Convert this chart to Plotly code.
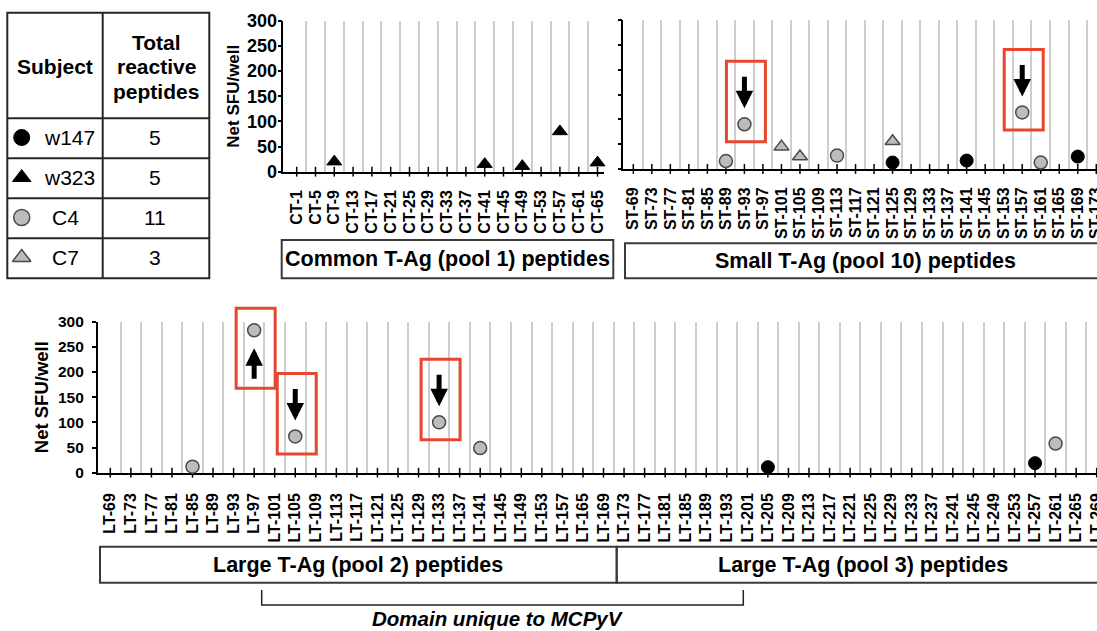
import plotly.graph_objects as go

W, H = 1097, 631

# ---------------- peptide categories ----------------
ct_peptides = ["CT-1", "CT-5", "CT-9", "CT-13", "CT-17", "CT-21", "CT-25", "CT-29", "CT-33",
               "CT-37", "CT-41", "CT-45", "CT-49", "CT-53", "CT-57", "CT-61", "CT-65"]
st_peptides = ["ST-69", "ST-73", "ST-77", "ST-81", "ST-85", "ST-89", "ST-93", "ST-97", "ST-101",
               "ST-105", "ST-109", "ST-113", "ST-117", "ST-121", "ST-125", "ST-129", "ST-133",
               "ST-137", "ST-141", "ST-145", "ST-153", "ST-157", "ST-161", "ST-165", "ST-169", "ST-173"]
lt_peptides = ["LT-69", "LT-73", "LT-77", "LT-81", "LT-85", "LT-89", "LT-93", "LT-97", "LT-101",
               "LT-105", "LT-109", "LT-113", "LT-117", "LT-121", "LT-125", "LT-129", "LT-133",
               "LT-137", "LT-141", "LT-145", "LT-149", "LT-153", "LT-157", "LT-165", "LT-169",
               "LT-173", "LT-177", "LT-181", "LT-185", "LT-189", "LT-193", "LT-201", "LT-205",
               "LT-209", "LT-213", "LT-217", "LT-221", "LT-225", "LT-229", "LT-233", "LT-237",
               "LT-241", "LT-245", "LT-249", "LT-253", "LT-257", "LT-261", "LT-265", "LT-269"]

# ---------------- responses (net SFU/well) ----------------
subjects = ["w147", "w323", "C4", "C7"]
w147_peptides = ["ST-125", "ST-141", "ST-169", "LT-205", "LT-257"]
w147_sfu = [13, 17, 25, 11, 19]
w323_peptides = ["CT-9", "CT-41", "CT-49", "CT-57", "CT-65"]
w323_sfu = [20, 15, 11, 80, 18]
c4_peptides = ["ST-89", "ST-93", "ST-113", "ST-157", "ST-161",
               "LT-85", "LT-97", "LT-105", "LT-133", "LT-141", "LT-261"]
c4_sfu = [16, 90, 27, 114, 13, 12, 283, 72, 100, 49, 58]
c7_peptides = ["ST-101", "ST-105", "ST-125"]
c7_sfu = [45, 25, 56]

# responses flagged with a red frame and an arrow
highlight_peptides = ["ST-93", "ST-157", "LT-97", "LT-105", "LT-133"]
highlight_dirs = ["down", "down", "up", "down", "down"]

# pool boxes under the axes
pool_labels = ["Common T-Ag (pool 1) peptides", "Small T-Ag (pool 10) peptides",
               "Large T-Ag (pool 2) peptides", "Large T-Ag (pool 3) peptides"]
domain_label = "Domain unique to MCPyV"

# ---------------- styling ----------------
FONT = "Liberation Sans, Arial, Helvetica, sans-serif"
GREY_FILL = "#bcbcbc"
GREY_EDGE = "#4a4a4a"
RED = "#e8472f"
styles = {
    "w147": dict(symbol="circle", color="black", line=dict(color="black", width=1)),
    "w323": dict(symbol="triangle-up", color="black", line=dict(color="black", width=1)),
    "C4": dict(symbol="circle", color=GREY_FILL, line=dict(color=GREY_EDGE, width=1.5)),
    "C7": dict(symbol="triangle-up", color=GREY_FILL, line=dict(color=GREY_EDGE, width=1.5)),
}
series = {
    "w147": (w147_peptides, w147_sfu),
    "w323": (w323_peptides, w323_sfu),
    "C4": (c4_peptides, c4_sfu),
    "C7": (c7_peptides, c7_sfu),
}

# panel geometry in pixels: axis box and centre of first category / category step
panels = {
    "CT": dict(cats=ct_peptides, ax="", x0=283.3, x1=604.0, ybot=171.7, ytop=20.7, first=296.7, step=18.8,
               labels=True, tick_size=16, ytick_size=18, standoff=10, ystandoff=-3,
               title_x=233.5, title_size=17),
    "ST": dict(cats=st_peptides, ax="2", x0=623.3, x1=1097.0, ybot=169.0, ytop=20.0, first=633.3, step=18.52,
               labels=False, tick_size=16, ytick_size=18, standoff=10, ystandoff=0,
               title_x=None, title_size=17),
    "LT": dict(cats=lt_peptides, ax="3", x0=97.7, x1=1097.0, ybot=472.7, ytop=321.7, first=110.3, step=20.55,
               labels=True, tick_size=16, ytick_size=15.5, standoff=12, ystandoff=5,
               title_x=41.0, title_size=18.5),
}
YMAX = 300


def px(x):
    return x / W


def py(y):
    return 1 - y / H


def panel_of(pep):
    return pep.split("-")[0]


def to_pixel(pep, val):
    p = panels[panel_of(pep)]
    i = p["cats"].index(pep)
    return p["first"] + i * p["step"], p["ybot"] - val / YMAX * (p["ybot"] - p["ytop"])


fig = go.Figure()
layout = dict(
    width=W, height=H, autosize=False,
    margin=dict(l=0, r=0, t=0, b=0, pad=0, autoexpand=False),
    paper_bgcolor="white", plot_bgcolor="rgba(0,0,0,0)",
    showlegend=False, font=dict(family=FONT, color="black"),
)

annotations = []
shapes = []

# ---------------- axes, gridlines, cross ticks ----------------
for key, p in panels.items():
    n = len(p["cats"])
    xa, ya = "xaxis" + p["ax"], "yaxis" + p["ax"]
    xr, yr = "x" + p["ax"], "y" + p["ax"]
    layout[xa] = dict(
        domain=[px(p["x0"]), px(p["x1"])], anchor=yr,
        range=[(p["x0"] - p["first"]) / p["step"], (p["x1"] - p["first"]) / p["step"]],
        tickmode="array", tickvals=list(range(n)), ticktext=p["cats"], tickangle=-90,
        tickfont=dict(family=FONT, size=p["tick_size"], color="black", weight="bold"),
        ticks="", ticklabelstandoff=p["standoff"], ticklabeloverflow="allow",
        showline=True, linecolor="black", linewidth=2, showgrid=False, zeroline=False,
        minor=dict(tickmode="array", tickvals=[i + 0.5 for i in range(n - 1)], showgrid=True,
                   gridcolor="#cdcdcd", gridwidth=1.5, ticks=""),
        layer="below traces", fixedrange=True,
    )
    layout[ya] = dict(
        domain=[py(p["ybot"]), py(p["ytop"])], anchor=xr,
        range=[0, YMAX], tickmode="array", tickvals=list(range(0, YMAX + 1, 50)),
        showticklabels=p["labels"], ticklabelstandoff=p["ystandoff"],
        tickfont=dict(family=FONT, size=p["ytick_size"], color="black", weight="bold"),
        ticks="outside", ticklen=4, tickwidth=1.5, tickcolor="black",
        showline=True, linecolor="black", linewidth=1.5, showgrid=False, zeroline=False,
        fixedrange=True,
    )
    # cross-style tick marks on the category axis
    fig.add_trace(go.Scatter(
        x=list(range(n)), y=[0] * n, xaxis=xr, yaxis=yr, mode="markers",
        marker=dict(symbol="line-ns", size=7, line=dict(color="black", width=1.5)),
        cliponaxis=False, hoverinfo="skip",
    ))
    if p["title_x"] is not None:
        annotations.append(dict(
            x=px(p["title_x"]), y=py((p["ybot"] + p["ytop"]) / 2), xref="paper", yref="paper",
            text="Net SFU/well", textangle=-90, showarrow=False,
            font=dict(family=FONT, size=p["title_size"], color="black", weight="bold"),
            xanchor="center", yanchor="middle",
        ))

# ---------------- response markers ----------------
for s in subjects:
    peps, vals = series[s]
    for key, p in panels.items():
        xs = [p["cats"].index(pep) for pep in peps if panel_of(pep) == key]
        ys = [v for pep, v in zip(peps, vals) if panel_of(pep) == key]
        if not xs:
            continue
        st = styles[s]
        fig.add_trace(go.Scatter(
            x=xs, y=ys, xaxis="x" + p["ax"], yaxis="y" + p["ax"], mode="markers", name=s,
            marker=dict(symbol=st["symbol"], size=13, color=st["color"], line=st["line"]),
            cliponaxis=False,
        ))

# ---------------- highlight frames and arrows ----------------
all_vals = {}
for s in subjects:
    for pep, v in zip(*series[s]):
        all_vals[pep] = v
for pep, d in zip(highlight_peptides, highlight_dirs):
    v = all_vals[pep]
    p = panels[panel_of(pep)]
    cx, cy = to_pixel(pep, v)
    if d == "down":
        top, bot = cy - 63, cy + 17.5
        ay, standoff = -49, 16
    else:
        top, bot = cy - 22, cy + 58
        ay, standoff = 50, 18
    shapes.append(dict(type="rect", xref="paper", yref="paper",
                       x0=px(cx - 18), x1=px(cx + 21), y0=py(bot), y1=py(top),
                       line=dict(color=RED, width=3), fillcolor="rgba(0,0,0,0)"))
    annotations.append(dict(
        x=p["cats"].index(pep), y=v, xref="x" + p["ax"], yref="y" + p["ax"],
        ax=0, ay=ay, text="", showarrow=True, arrowhead=2, arrowsize=0.7,
        arrowwidth=5, arrowcolor="black", standoff=standoff,
    ))

# ---------------- pool boxes ----------------
BOX_LINE = dict(color="#3a3a3a", width=2)
box_font = dict(family=FONT, size=21.5, color="black", weight="bold")
pool_boxes = [  # x0, x1, y_top, y_bottom, text centre x
    (281.7, 613.3, 240.0, 278.3, 447.5),
    (625.0, 1105.0, 243.3, 278.3, 865.0),
    (100.0, 616.7, 546.7, 582.7, 358.0),
    (616.7, 1105.0, 546.7, 582.7, 862.5),
]
for label, (x0, x1, yt, yb, tx) in zip(pool_labels, pool_boxes):
    shapes.append(dict(type="rect", xref="paper", yref="paper",
                       x0=px(x0), x1=px(x1), y0=py(yb), y1=py(yt), line=BOX_LINE))
    annotations.append(dict(x=px(tx), y=py((yt + yb) / 2), xref="paper", yref="paper",
                            text=label, showarrow=False, font=box_font,
                            xanchor="center", yanchor="middle"))

# bracket marking the MCPyV-specific domain
bx0, bx1, by0, by1 = 261.7, 743.3, 590.0, 605.0
shapes.append(dict(type="path", xref="paper", yref="paper",
                   path=f"M {px(bx0)},{py(by0)} L {px(bx0)},{py(by1)} L {px(bx1)},{py(by1)} L {px(bx1)},{py(by0)}",
                   line=dict(color="#222", width=1.5)))
annotations.append(dict(x=px(498), y=py(618.5), xref="paper", yref="paper",
                        text="<i>" + domain_label + "</i>", showarrow=False,
                        font=dict(family=FONT, size=20.5, color="black", weight="bold"),
                        xanchor="center", yanchor="middle"))

# ---------------- subject table ----------------
TL = dict(color="#262626", width=2)
tx0, tx1, ty0, ty1, tcol = 7.3, 209.3, 12.7, 278.3, 102.7
row_lines = [118.3, 158.3, 198.3, 238.3]
shapes.append(dict(type="rect", xref="paper", yref="paper",
                   x0=px(tx0), x1=px(tx1), y0=py(ty1), y1=py(ty0), line=TL))
shapes.append(dict(type="line", xref="paper", yref="paper",
                   x0=px(tcol), x1=px(tcol), y0=py(ty1), y1=py(ty0), line=TL))
for ry in row_lines:
    shapes.append(dict(type="line", xref="paper", yref="paper",
                       x0=px(tx0), x1=px(tx1), y0=py(ry), y1=py(ry), line=TL))

head_font = dict(family=FONT, size=21, color="black", weight="bold")
cell_font = dict(family=FONT, size=21, color="black")
annotations.append(dict(x=px(55), y=py(67), xref="paper", yref="paper", text="Subject",
                        showarrow=False, font=head_font, xanchor="center", yanchor="middle"))
for word, wy in zip(["Total", "reactive", "peptides"], [42.7, 66.5, 91.0]):
    annotations.append(dict(x=px(156), y=py(wy), xref="paper", yref="paper", text=word,
                            showarrow=False, font=head_font, xanchor="center", yanchor="middle"))

row_y = [137.5, 177.5, 217.5, 257.5]
name_x = {"w147": 41.7, "w323": 41.7, "C4": 50.0, "C7": 50.0}
for s, ry in zip(subjects, row_y):
    annotations.append(dict(x=px(name_x[s]), y=py(ry), xref="paper", yref="paper", text=s,
                            showarrow=False, font=cell_font, xanchor="left", yanchor="middle"))
    annotations.append(dict(x=px(155), y=py(ry), xref="paper", yref="paper",
                            text=str(len(series[s][0])), showarrow=False, font=cell_font,
                            xanchor="center", yanchor="middle"))
    st = styles[s]
    fig.add_trace(go.Scatter(
        x=[21.7], y=[ry], xaxis="x4", yaxis="y4", mode="markers",
        marker=dict(symbol=st["symbol"], size=16, color=st["color"], line=st["line"]),
        cliponaxis=False, hoverinfo="skip",
    ))

layout["xaxis4"] = dict(domain=[0, 1], range=[0, W], visible=False, anchor="y4", fixedrange=True)
layout["yaxis4"] = dict(domain=[0, 1], range=[H, 0], visible=False, anchor="x4", fixedrange=True)
layout["annotations"] = annotations
layout["shapes"] = shapes

fig.update_layout(**layout)
fig.write_html("out.html", config={"displayModeBar": False})
